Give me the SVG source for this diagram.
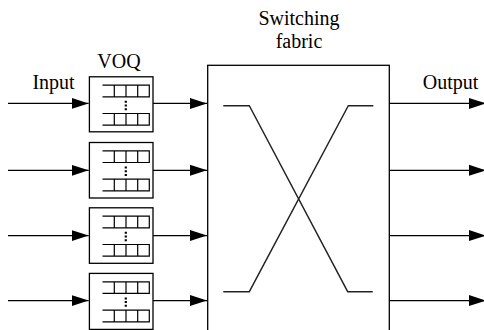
<svg xmlns="http://www.w3.org/2000/svg" width="484" height="330" viewBox="0 0 484 330">
<style>
.ln{stroke:#000;stroke-width:1.3;fill:none}
.bx{stroke:#000;stroke-width:1.3;fill:#fff}
.q{stroke:#000;stroke-width:1.2;fill:none}
.sw{stroke:#222;stroke-width:1.4;fill:none}
.t{font-family:"Liberation Serif","Times New Roman",serif;font-size:20px;fill:#000;text-anchor:middle}
</style>
<defs>
<marker id="ah" markerUnits="userSpaceOnUse" markerWidth="18" markerHeight="12" refX="17" refY="6" orient="auto">
<path d="M0,0.5 L17,6 L0,11.5 Z" fill="#000"/>
</marker>
<g id="queue">
<path class="q" d="M102.5,8.4 H149.3 V20 H102.5 M114.3,8.4 V20 M126,8.4 V20 M137.7,8.4 V20"/>
<path class="q" d="M102.5,36.7 H149.3 V48.4 H102.5 M114.3,36.7 V48.4 M126,36.7 V48.4 M137.7,36.7 V48.4"/>
<line x1="125.8" y1="24" x2="125.8" y2="33.5" stroke="#000" stroke-width="2.2" stroke-dasharray="2,1.7"/>
</g>
</defs>
<g id="labels">
<text class="t" x="53.5" y="89">Input</text>
<text class="t" x="119" y="68">VOQ</text>
<text class="t" x="299" y="25">Switching</text>
<text class="t" x="299" y="47.5">fabric</text>
<text class="t" x="450.5" y="88.5">Output</text>
</g>
<g id="fabric">
<rect class="bx" x="207.7" y="65.3" width="181.6" height="280"/>
<path class="sw" d="M223.3,105.7 H249.3 L347.7,291.7 H372.7"/>
<path class="sw" d="M373.3,105.7 H348.3 L249.3,291.7 H223.3"/>
</g>
<g id="voq1" transform="translate(0,76.8)">
<rect class="bx" x="89.4" y="0" width="63.6" height="55"/>
<use href="#queue"/>
</g>
<g id="voq2" transform="translate(0,142.5)">
<rect class="bx" x="89.4" y="0" width="63.6" height="55.5"/>
<use href="#queue"/>
</g>
<g id="voq3" transform="translate(0,207.8)">
<rect class="bx" x="89.4" y="0" width="63.6" height="55.5"/>
<use href="#queue"/>
</g>
<g id="voq4" transform="translate(0,273.4)">
<rect class="bx" x="89.4" y="0" width="63.6" height="56"/>
<use href="#queue"/>
</g>
<g id="connectors">
<line class="ln" x1="8" y1="103.4" x2="88.6" y2="103.4" marker-end="url(#ah)"/>
<line class="ln" x1="8" y1="170.3" x2="88.6" y2="170.3" marker-end="url(#ah)"/>
<line class="ln" x1="8" y1="235.6" x2="88.6" y2="235.6" marker-end="url(#ah)"/>
<line class="ln" x1="8" y1="300.6" x2="88.6" y2="300.6" marker-end="url(#ah)"/>
<line class="ln" x1="153" y1="103.4" x2="207" y2="103.4" marker-end="url(#ah)"/>
<line class="ln" x1="153" y1="170.3" x2="207" y2="170.3" marker-end="url(#ah)"/>
<line class="ln" x1="153" y1="235.6" x2="207" y2="235.6" marker-end="url(#ah)"/>
<line class="ln" x1="153" y1="300.6" x2="207" y2="300.6" marker-end="url(#ah)"/>
<line class="ln" x1="389.3" y1="103.4" x2="486" y2="103.4" marker-end="url(#ah)"/>
<line class="ln" x1="389.3" y1="170.3" x2="486" y2="170.3" marker-end="url(#ah)"/>
<line class="ln" x1="389.3" y1="235.6" x2="486" y2="235.6" marker-end="url(#ah)"/>
<line class="ln" x1="389.3" y1="300.6" x2="486" y2="300.6" marker-end="url(#ah)"/>
</g>
</svg>
